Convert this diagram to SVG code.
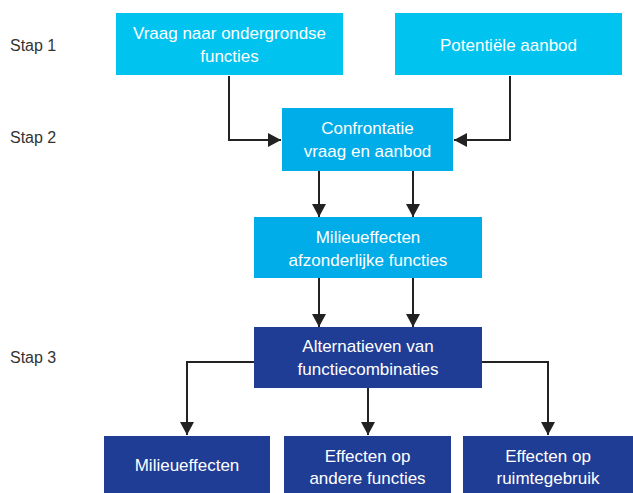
<svg xmlns="http://www.w3.org/2000/svg" width="633" height="493" viewBox="0 0 633 493">
<defs>
<style>
.lt{fill:#00c3ef}
.md{fill:#00ade8}
.dk{fill:#1f3d95}
.t{font-family:"Liberation Sans",Arial,sans-serif;font-size:17px;fill:#fff;text-anchor:middle}
.s{font-family:"Liberation Sans",Arial,sans-serif;font-size:16px;fill:#333}
.c{fill:none;stroke:#222;stroke-width:2}
</style>
<marker id="ah" markerWidth="14" markerHeight="14" viewBox="0 0 14 14" refX="13" refY="7" orient="auto" markerUnits="userSpaceOnUse">
<path d="M0,0 L13,7 L0,14 Z" fill="#222"/>
</marker>
</defs>
<rect width="633" height="493" fill="#fff"/>
<g id="labels">
<text class="s" x="10" y="51">Stap 1</text>
<text class="s" x="10" y="143">Stap 2</text>
<text class="s" x="10" y="363">Stap 3</text>
</g>
<g id="connectors">
<path class="c" d="M229,76 V140 H281" marker-end="url(#ah)"/>
<path class="c" d="M510,76 V140 H454" marker-end="url(#ah)"/>
<path class="c" d="M319,171 V217" marker-end="url(#ah)"/>
<path class="c" d="M413,171 V217" marker-end="url(#ah)"/>
<path class="c" d="M319,278 V327" marker-end="url(#ah)"/>
<path class="c" d="M413,278 V327" marker-end="url(#ah)"/>
<path class="c" d="M254,362 H187 V435" marker-end="url(#ah)"/>
<path class="c" d="M368,388 V435" marker-end="url(#ah)"/>
<path class="c" d="M482,362 H548 V435" marker-end="url(#ah)"/>
</g>
<g id="vraag">
<rect class="lt" x="116" y="13" width="227" height="62"/>
<text class="t" x="229.5" y="39">Vraag naar ondergrondse</text>
<text class="t" x="229.5" y="62">functies</text>
</g>
<g id="aanbod">
<rect class="lt" x="395" y="13" width="227" height="62"/>
<text class="t" x="508.5" y="51">Potentiële aanbod</text>
</g>
<g id="confrontatie">
<rect class="md" x="282" y="108" width="171" height="63"/>
<text class="t" x="367.5" y="134">Confrontatie</text>
<text class="t" x="367.5" y="157">vraag en aanbod</text>
</g>
<g id="milieu-afz">
<rect class="md" x="254" y="217" width="228" height="61"/>
<text class="t" x="368" y="243">Milieueffecten</text>
<text class="t" x="368" y="266">afzonderlijke functies</text>
</g>
<g id="alternatieven">
<rect class="dk" x="254" y="327" width="228" height="61"/>
<text class="t" x="368" y="352">Alternatieven van</text>
<text class="t" x="368" y="375">functiecombinaties</text>
</g>
<g id="milieueffecten">
<rect class="dk" x="104" y="436" width="166" height="57"/>
<text class="t" x="187" y="471">Milieueffecten</text>
</g>
<g id="effecten-functies">
<rect class="dk" x="284" y="436" width="167" height="57"/>
<text class="t" x="367.5" y="462">Effecten op</text>
<text class="t" x="367.5" y="484">andere functies</text>
</g>
<g id="effecten-ruimte">
<rect class="dk" x="463" y="436" width="170" height="57"/>
<text class="t" x="548" y="462">Effecten op</text>
<text class="t" x="548" y="484">ruimtegebruik</text>
</g>
</svg>
